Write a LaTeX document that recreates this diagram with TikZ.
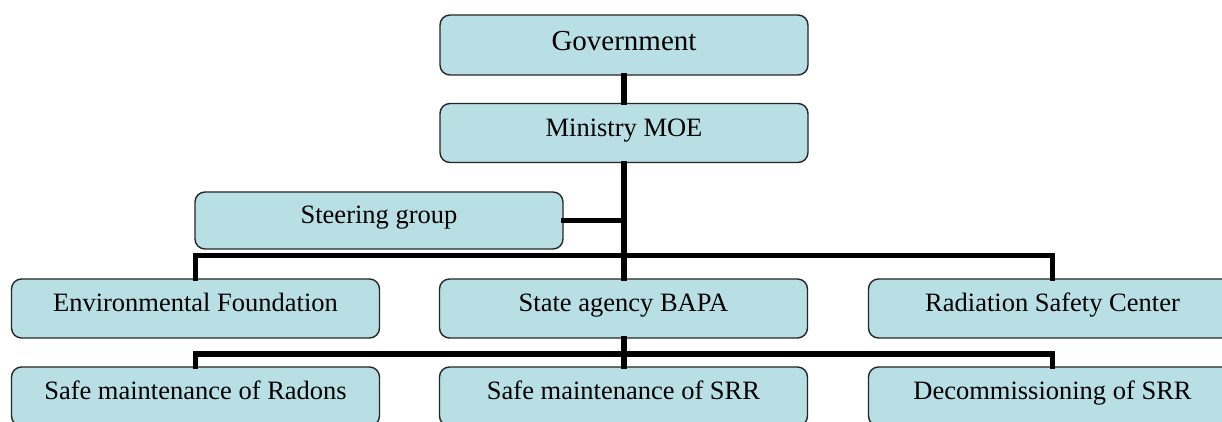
\documentclass[tikz,border=0pt]{standalone}
\usepackage{fontspec}
\setmainfont{Liberation Serif}
\definecolor{boxfill}{RGB}{184,223,228}

\tikzset{
  unit/.style={draw=black!85, line width=0.7pt, fill=boxfill, rounded corners=5pt,
    minimum width=184pt, minimum height=29.5pt, inner sep=0pt,
    text height=0.62em, text depth=0.3em, font=\fontsize{13.25}{15}\selectfont},
  link/.style={line width=2.6pt, line join=miter, line cap=rect}
}

\begin{document}
\begin{tikzpicture}[x=0.5pt,y=-0.5pt]
    \clip (0,0) rectangle (1222,422);
    \fill[white] (0,0) rectangle (1222,422);

    \coordinate (bar1) at (624,255.5);
    \coordinate (bar2) at (624,354);

    \node[unit, minimum height=30pt, text height=0.72em, text depth=0.2em,
      font=\fontsize{14.5}{16}\selectfont] (gov) at (624,45) {Government};
    \node[unit] (moe) at (624,133) {Ministry MOE};
    \node[unit, minimum height=28.5pt] (steer) at (379,220.5) {Steering group};

    \node[unit] (env) at (195.5,308.5) {Environmental Foundation};
    \node[unit] (bapa) at (623.5,308.5) {State agency BAPA};
    \node[unit] (rsc) at (1052.5,308.5) {Radiation Safety Center};

    \node[unit] (radon) at (195.5,396.5) {Safe maintenance of Radons};
    \node[unit] (srr) at (623.5,396.5) {Safe maintenance of SRR};
    \node[unit] (decom) at (1052.5,396.5) {Decommissioning of SRR};

    \draw[link] (gov.south) -- (moe.north);
    \draw[link] (moe.south) -- (moe.south |- bapa.north);
    \draw[link] (steer.east) -- (steer.east -| moe.south);
    \draw[link] (env.north) |- (bar1) -| (rsc.north);
    \draw[link] (bapa.south -| moe.south) -- (srr.north -| moe.south);
    \draw[link] (radon.north) |- (bar2) -| (decom.north);
\end{tikzpicture}
\end{document}
